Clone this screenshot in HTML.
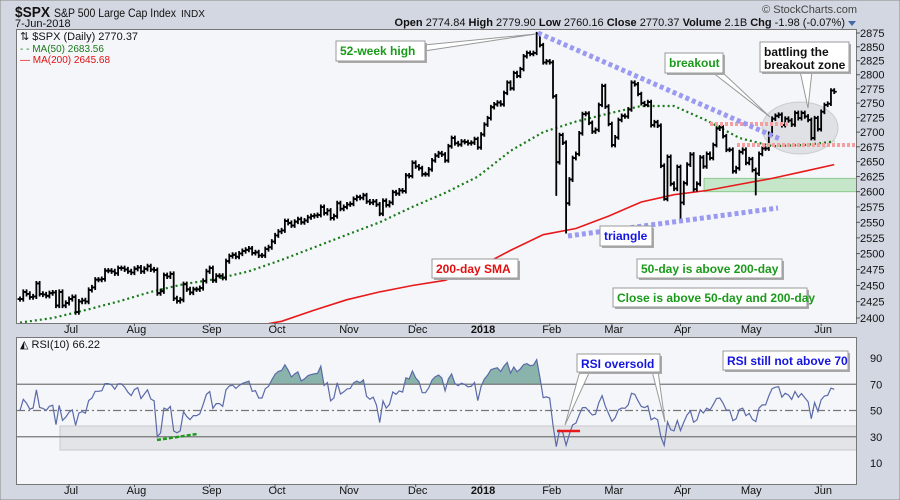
<!DOCTYPE html>
<html><head><meta charset="utf-8"><style>
html,body{margin:0;padding:0;background:#d3d7e1;}
svg{display:block;font-family:"Liberation Sans",sans-serif;}
</style></head><body>
<svg id="c" width="900" height="500" viewBox="0 0 900 500" xmlns="http://www.w3.org/2000/svg">
<rect x="0" y="0" width="900" height="500" fill="#d3d7e1" stroke="#888"/>
<text x="15" y="17" font-size="15" font-weight="bold" fill="#111" textLength="35" lengthAdjust="spacingAndGlyphs">$SPX</text>
<text x="54" y="17" font-size="12" fill="#111" textLength="122" lengthAdjust="spacingAndGlyphs">S&amp;P 500 Large Cap Index</text>
<text x="181" y="17" font-size="10" fill="#111">INDX</text>
<text x="15" y="27" font-size="11" fill="#111">7-Jun-2018</text>
<text x="857" y="13" font-size="11" fill="#444" text-anchor="end">© StockCharts.com</text>
<text x="845" y="26" font-size="11" fill="#111" text-anchor="end"><tspan font-weight="bold">Open</tspan> 2774.84 <tspan font-weight="bold">High</tspan> 2779.90 <tspan font-weight="bold">Low</tspan> 2760.16 <tspan font-weight="bold">Close</tspan> 2770.37 <tspan font-weight="bold">Volume</tspan> 2.1B <tspan font-weight="bold">Chg</tspan> -1.98 (-0.07%)</text>
<path d="M848,21 L856,21 L852,26 Z" fill="#46a"/>
<rect x="16.5" y="29.5" width="840" height="294" fill="#f5f6fa" stroke="#777"/>
<rect x="16.5" y="337.5" width="840" height="147" fill="#f5f6fa" stroke="#777"/>
<g id="g"></g>
</svg>
<script>
const closes=[2429,2440,2437,2432,2433,2453,2437,2436,2434,2438,2439,2419,2440,2419,2423,
2429,2432,2409,2425,2427,2425,2443,2447,2459,2459,2460,2473,2473,2472,2469,2477,2477,2475,2472,2470,
2476,2478,2472,2476,2480,2475,2474,2438,2441,2466,2464,2468,2430,2426,2428,2452,2444,2439,2444,2444,2446,2457,2472,
2477,2458,2465,2465,2462,2488,2496,2498,2495,2500,2504,2506,2508,2501,2502,2497,2497,2507,2510,2519,
2529,2535,2537,2552,2549,2545,2551,2555,2550,2553,2558,2560,2561,2562,2575,2565,2569,2557,2560,2581,2572,2575,
2579,2580,2588,2591,2590,2594,2584,2582,2584,2579,2564,2585,2578,2582,2599,2597,2602,2601,2627,2626,2648,
2642,2639,2629,2629,2637,2652,2660,2664,2662,2652,2676,2690,2681,2679,2684,2683,2681,2682,2688,2674,
2696,2713,2724,2743,2748,2751,2748,2768,2786,2776,2803,2798,2810,2833,2839,2837,2839,2873,2853,2822,2824,
2822,2762,2649,2695,2682,2581,2620,2656,2663,2698,2731,2732,2716,2701,2704,2747,2780,2744,2714,
2678,2691,2721,2728,2727,2739,2786,2783,2766,2750,2747,2752,2712,2717,2711,2643,2588,2658,2613,2605,2641,
2582,2614,2645,2662,2604,2613,2657,2642,2663,2656,2678,2706,2708,2693,2670,2670,2634,2639,2666,2670,2648,
2654,2636,2630,2663,2672,2672,2697,2723,2728,2730,2712,2723,2720,2713,2733,2724,2733,2727,2721,2690,2724,2705,
2735,2747,2749,2772,2770];
const lowOverrideIdx=[164,167,197,202,225];
const lowOverrideVal=[2593,2532,2585,2553,2594];
const ma50=[2393,2400,2412,2425,2440,2452,2460,2472,2490,2510,2530,2550,2575,2598,2625,2668,2700,2718,2732,2745,2745,2720,2690,2676,2678,2684];
const ma200=[2330,2338,2346,2354,2362,2370,2378,2386,2395,2412,2428,2440,2450,2458,2478,2505,2530,2540,2560,2583,2595,2602,2612,2622,2634,2645];
const maStep=10;
const monthLabels=["Jul","Aug","Sep","Oct","Nov","Dec","2018","Feb","Mar","Apr","May","Jun"];
const monthIdx=[15,35,58,78,100,121,141,162,181,202,223,245];
const priceTicks=[2400,2425,2450,2475,2500,2525,2550,2575,2600,2625,2650,2675,2700,2725,2750,2775,2800,2825,2850,2875];
const rsiTicks=[10,30,50,70,90];

const NS="http://www.w3.org/2000/svg", G=document.getElementById('g');
function el(t,a,p){const e=document.createElementNS(NS,t);for(const k in a)e.setAttribute(k,a[k]);(p||G).appendChild(e);return e;}
const xI=i=>20+i*3.27;
const L1=Math.log(2875),L0=Math.log(2400);
const yP=p=>33+(L1-Math.log(p))/(L1-L0)*285;
const yR=v=>358+(90-v)*1.3125;

const defs=el('defs',{});
const cp=el('clipPath',{id:'cpP'},defs);el('rect',{x:17,y:30,width:839,height:293},cp);
const cr=el('clipPath',{id:'cpR'},defs);el('rect',{x:17,y:338,width:839,height:146},cr);

priceTicks.forEach(p=>{const y=yP(p);
 const t=el('line',{x1:856,x2:860,y1:y,y2:y,stroke:'#555'});
 
 
 const tx=el('text',{x:860,y:y+4,'font-size':11,fill:'#111'});tx.textContent=p;
 
 
});
rsiTicks.forEach(v=>{const y=yR(v);
 const tx=el('text',{x:870,y:y+4,'font-size':11,fill:'#111'});tx.textContent=v;
 
 
});
monthLabels.forEach((m,k)=>{const x=xI(monthIdx[k]);
 [[323,333],[484,494]].forEach(([y0,ty])=>{
  const tl=el('line',{x1:x,x2:x,y1:y0,y2:y0+3,stroke:'#555'});
  
  
  const tx=el('text',{x:x+2,y:ty,'font-size':11,fill:'#111','text-anchor':'middle','font-weight':m==='2018'?'bold':'normal'});tx.textContent=m;
  
  
 });
});

const PG=el('g',{'clip-path':'url(#cpP)'});


const gz=el('rect',{x:704,y:yP(2622),width:160,height:yP(2600)-yP(2622),fill:'rgba(110,200,110,0.35)',stroke:'rgba(90,180,90,0.6)'},PG);


const ell=el('ellipse',{cx:800,cy:128,rx:38,ry:26,fill:'rgba(200,200,205,0.45)',stroke:'rgba(180,180,185,0.6)'},PG);


function maPath(arr){return arr.map((v,k)=>{const i=Math.min(k*maStep,closes.length-1);return (k?'L':'M')+xI(i).toFixed(1)+','+yP(v).toFixed(1);}).join('');}
const m2=el('path',{d:maPath(ma200),fill:'none',stroke:'#e8191b','stroke-width':1.6},PG);


const m5=el('path',{d:maPath(ma50),fill:'none',stroke:'#1a7a1a','stroke-width':2.2,'stroke-dasharray':'2,3'},PG);


closes.forEach((c,i)=>{
 const prev=i?closes[i-1]:c;
 let hi=Math.max(prev,c)+4, lo=Math.min(prev,c)-4;
 const oi=lowOverrideIdx.indexOf(i); if(oi>=0) lo=lowOverrideVal[oi];
 const x=xI(i);
 const b=el('path',{d:`M${x},${yP(hi)}V${yP(lo)}M${x},${yP(c)}h2.5M${x},${yP(prev)}h-2.5`,stroke:'#000','stroke-width':1.8,fill:'none'},PG);
 
 
});
[[710,790,124],[737,856,145]].forEach(([a,b,y])=>{
 const l=el('line',{x1:a,x2:b,y1:y,y2:y,stroke:'#f4a0a0','stroke-width':4,'stroke-dasharray':'3,2'},PG);
 
 
});
[[538,33,780,139],[568,236,778,208]].forEach(([a,b,c,d])=>{
 const l=el('line',{x1:a,y1:b,x2:c,y2:d,stroke:'#9a9af0','stroke-width':5,'stroke-dasharray':'4,3'},PG);
 
 
});

// RSI (Wilder 10)
const rsi=[];let ag=3,al=3;
closes.forEach((c,i)=>{ if(!i){rsi.push(50);return;}
 const d=c-closes[i-1],g=Math.max(d,0),l=Math.max(-d,0);
 ag=(ag*9+g)/10; al=(al*9+l)/10;
 rsi.push(al===0?100:100-100/(1+ag/al));});
const RG=el('g',{'clip-path':'url(#cpR)'});


const band=el('rect',{x:60,y:426,width:797,height:24,fill:'#e3e4e8',stroke:'#c8c8cc'},RG);


const clip70=el('clipPath',{id:'c70'},defs);el('rect',{x:0,y:0,width:900,height:yR(70)},clip70);
const pts=rsi.map((v,i)=>xI(i).toFixed(1)+','+yR(v).toFixed(1));
const fa=el('path',{d:'M'+xI(0)+','+yR(70)+'L'+pts.join('L')+'L'+xI(rsi.length-1)+','+yR(70)+'Z',fill:'#8ab3ac','clip-path':'url(#c70)'},RG);


[[70,'none'],[30,'none'],[50,'8,3,2,3']].forEach(([v,da])=>{
 const l=el('line',{x1:17,x2:856,y1:yR(v),y2:yR(v),stroke:'#777','stroke-width':1.2,'stroke-dasharray':da},RG);
 
 
});
const rl=el('path',{d:'M'+pts.join('L'),fill:'none',stroke:'#5a6aa8','stroke-width':1.2},RG);


const gd=el('line',{x1:157,y1:440,x2:197,y2:434,stroke:'#1a9a1a','stroke-width':2.5,'stroke-dasharray':'4,2'},RG);


const rd=el('line',{x1:557,y1:431,x2:580,y2:431,stroke:'#e81818','stroke-width':2.5},RG);



function txt(x,y,s,fill,size,name){const t=el('text',{x,y,'font-size':size,fill});t.textContent=s;
 
 return t;}
txt(20,40,'⇅ $SPX (Daily) 2770.37','#111',11,'price-legend');
txt(20,52,'- - MA(50) 2683.56','#1a7a1a',10,'ma50-legend');
txt(20,63,'— MA(200) 2645.68','#e01010',10,'ma200-legend');
txt(20,348,'◭ RSI(10) 66.22','#111',11,'rsi-legend');

function box(x,y,w,h,lines,color,name,ptr){
 const g=el('g',{});
 
 
 if(ptr) ptr.forEach(p=>el('path',{d:p,fill:'#fff',stroke:'#999','stroke-width':1},g));
 el('rect',{x:x+2,y:y+2,width:w,height:h,fill:'#aaa'},g);
 el('rect',{x,y,width:w,height:h,fill:'#fff',stroke:'#999'},g);
 lines.forEach((s,k)=>{const t=el('text',{x:x+4,y:y+14+k*13,'font-size':12,'font-weight':'bold',fill:color},g);t.textContent=s;});
}
box(336,41,89,20,['52-week high'],'#1a9a1a','note-52-week-high',['M424,45 L536,34 L424,51 Z']);
box(665,53,58,20,['breakout'],'#1a9a1a','note-breakout',['M712,72 L770,117 L722,72 Z']);
box(760,42,89,30,['battling the','breakout zone'],'#111','note-battling',['M800,71 L808,108 L812,71 Z']);
box(600,226,52,20,['triangle'],'#1515e0','note-triangle');
box(432,259,86,19,['200-day SMA'],'#e01010','note-200-day-sma');
box(637,259,145,19,['50-day is above 200-day'],'#1a9a1a','note-50-above-200');
box(613,288,194,19,['Close is above 50-day and 200-day'],'#1a9a1a','note-close-above');
box(577,354,83,18,['RSI oversold'],'#1515e0','note-rsi-oversold',['M580,371 L565,425 L590,371 Z','M652,371 L665,422 L658,371 Z']);
box(723,351,125,19,['RSI still not above 70'],'#1515e0','note-rsi-not-70');
</script>
</body></html>
